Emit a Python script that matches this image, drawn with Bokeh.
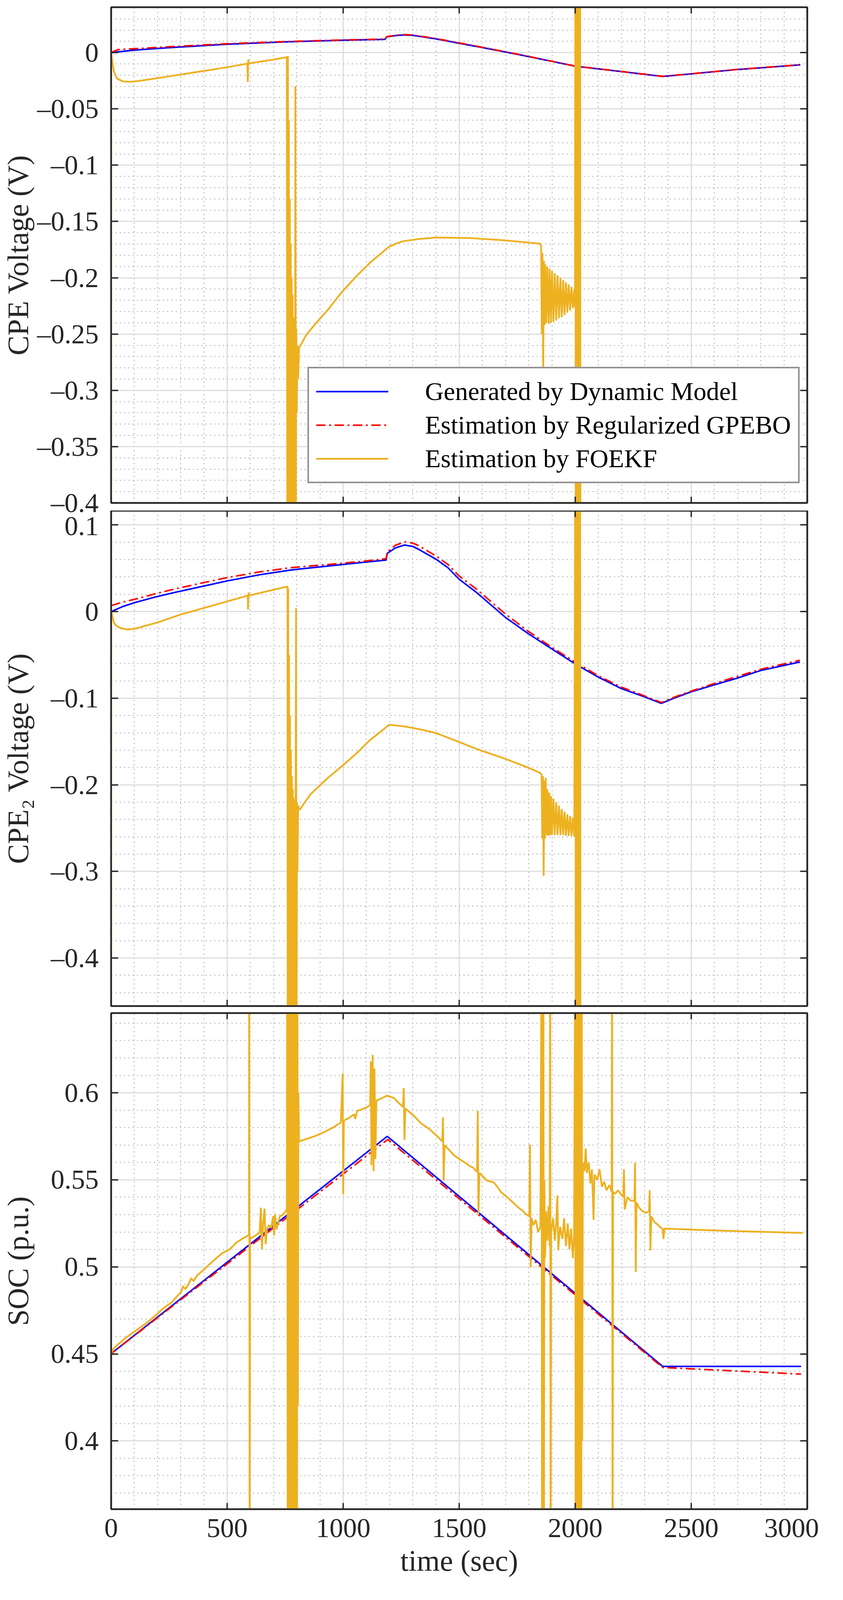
from bokeh.plotting import figure
from bokeh.models import (Range1d, LinearAxis, SingleIntervalTicker,
                          CustomJSTickFormatter, Legend, LegendItem)
from bokeh.layouts import column
from bokeh.embed import file_html
from bokeh.resources import INLINE

# ---------------- data (time [s], value) ----------------
# Panel 1: CPE voltage (V)
top_gen = [(0, 0.0), (100, 0.0022), (250, 0.0044), (500, 0.0074), (750, 0.0095), (1000, 0.0110),
           (1180, 0.0118), (1188, 0.0140), (1230, 0.0152), (1265, 0.0157), (1300, 0.0153),
           (1400, 0.0122), (1500, 0.0083), (1600, 0.0045), (1750, -0.0015), (1900, -0.0078),
           (2000, -0.0121), (2200, -0.0169), (2377, -0.0212), (2500, -0.0189), (2700, -0.0150),
           (2970, -0.0109)]
top_gpebo = [(0, 0.0), (30, 0.0027), (100, 0.0034), (250, 0.0052), (500, 0.0079), (750, 0.0098),
             (1000, 0.0112), (1180, 0.0120), (1188, 0.0142), (1230, 0.0155), (1265, 0.0160),
             (1300, 0.0156), (1400, 0.0125), (1500, 0.0086), (1600, 0.0047), (1750, -0.0013),
             (1900, -0.0077), (2000, -0.0120), (2200, -0.0168), (2377, -0.0211), (2500, -0.0188),
             (2700, -0.0149), (2970, -0.0108)]
top_foekf = [(0, -0.6), (0.5, 0.0), (5, -0.008), (12, -0.017), (25, -0.023), (50, -0.0255),
             (80, -0.026), (120, -0.0252), (300, -0.0195), (500, -0.0130), (587, -0.0098),
             (589, -0.026), (591, -0.0060), (593, -0.0096), (596, -0.0095), (700, -0.0062),
             (757, -0.0040), (760, -0.6), (762, -0.003), (764, -0.6), (766, -0.06), (768, -0.6),
             (770, -0.13), (772, -0.6), (774, -0.17), (776, -0.6), (778, -0.20), (780, -0.5),
             (782, -0.215), (784, -0.5), (786, -0.235), (788, -0.45), (790, -0.25), (792, -0.42),
             (794, -0.030), (796, -0.42), (798, -0.245), (800, -0.32), (803, -0.26), (806, -0.29),
             (810, -0.262), (818, -0.2594), (840, -0.251), (877, -0.2417), (940, -0.227),
             (995, -0.2125), (1060, -0.198), (1119, -0.1860), (1160, -0.179), (1196, -0.1727),
             (1230, -0.1695), (1261, -0.1674), (1330, -0.1655), (1400, -0.1642), (1550, -0.1648),
             (1700, -0.1668), (1848, -0.1697), (1853, -0.172), (1856, -0.250), (1859, -0.178),
             (1862, -0.285), (1865, -0.185), (1868, -0.242), (1871, -0.188), (1875, -0.240),
             (1880, -0.190), (1885, -0.241), (1890, -0.192), (1895, -0.240), (1900, -0.194),
             (1906, -0.239), (1912, -0.196), (1918, -0.238), (1924, -0.198), (1930, -0.236),
             (1936, -0.200), (1942, -0.235), (1948, -0.202), (1954, -0.233), (1960, -0.204),
             (1966, -0.231), (1972, -0.206), (1978, -0.229), (1984, -0.208), (1990, -0.227),
             (1996, -0.210), (1999, -0.226), (2001, 0.2), (2003, -0.7), (2005, 0.2), (2007, -0.7),
             (2009, 0.2), (2011, -0.7), (2013, 0.2), (2015, -0.7), (2017, 0.2), (2019, -0.7),
             (2021, 0.2), (2023, -0.7)]

# Panel 2: CPE2 voltage (V)
mid_gen = [(0, 0.0), (50, 0.0058), (105, 0.0106), (190, 0.0168), (272, 0.0220), (400, 0.0295),
           (500, 0.0354), (640, 0.0425), (775, 0.0480), (900, 0.0516), (1003, 0.0545),
           (1100, 0.0572), (1185, 0.0595), (1190, 0.0672), (1225, 0.0735), (1264, 0.0768),
           (1300, 0.0752), (1326, 0.0718), (1401, 0.0603), (1451, 0.0507), (1500, 0.0373),
           (1575, 0.0220), (1699, -0.0066), (1799, -0.0257), (1898, -0.0429), (1998, -0.0601),
           (2097, -0.0753), (2197, -0.0887), (2300, -0.0985), (2371, -0.1060), (2430, -0.0995),
           (2501, -0.0925), (2600, -0.0845), (2694, -0.0772), (2800, -0.0680), (2968, -0.0582)]
mid_gpebo = [(0, 0.0069), (50, 0.0110), (105, 0.0144), (190, 0.0205), (272, 0.0259), (400, 0.0335),
             (500, 0.0392), (640, 0.0458), (775, 0.0507), (900, 0.0535), (1003, 0.0560),
             (1100, 0.0585), (1185, 0.0610), (1190, 0.0690), (1225, 0.0765), (1265, 0.0806),
             (1300, 0.0790), (1326, 0.0760), (1401, 0.0640), (1451, 0.0545), (1500, 0.0410),
             (1575, 0.0258), (1699, -0.0028), (1799, -0.0230), (1898, -0.0410), (1998, -0.0580),
             (2097, -0.0738), (2197, -0.0870), (2300, -0.0975), (2371, -0.1050), (2430, -0.0985),
             (2501, -0.0917), (2600, -0.0830), (2694, -0.0753), (2800, -0.0665), (2968, -0.0562)]
mid_foekf = [(0, -0.6), (0.5, 0.003), (5, -0.005), (12, -0.013), (21, -0.016), (40, -0.019),
             (71, -0.0207), (100, -0.0200), (200, -0.0125), (300, -0.0034), (450, 0.0079),
             (589, 0.0185), (590, 0.0023), (592, 0.0220), (594, 0.0185), (700, 0.0252),
             (760, 0.0290), (761, -0.6), (763, 0.027), (765, -0.6), (767, -0.05), (769, -0.6),
             (771, -0.12), (773, -0.6), (775, -0.16), (777, -0.6), (779, -0.19), (781, -0.55),
             (783, -0.205), (785, -0.52), (787, -0.215), (789, -0.5), (791, -0.22), (793, -0.55),
             (795, -0.225), (797, 0.004), (799, -0.6), (801, -0.22), (803, -0.30), (806, -0.224),
             (812, -0.229), (830, -0.222), (859, -0.211), (930, -0.193), (1003, -0.1766),
             (1060, -0.163), (1110, -0.1497), (1160, -0.139), (1194, -0.1315), (1202, -0.1307),
             (1264, -0.1326), (1326, -0.1357), (1401, -0.1403), (1500, -0.1506), (1575, -0.1586),
             (1699, -0.1700), (1799, -0.1804), (1848, -0.1862), (1855, -0.1880), (1858, -0.262),
             (1861, -0.190), (1864, -0.305), (1867, -0.195), (1870, -0.262), (1873, -0.192),
             (1876, -0.258), (1880, -0.205), (1884, -0.259), (1888, -0.209), (1892, -0.258),
             (1896, -0.213), (1900, -0.258), (1906, -0.216), (1912, -0.258), (1918, -0.220),
             (1924, -0.258), (1930, -0.224), (1936, -0.258), (1942, -0.228), (1948, -0.258),
             (1954, -0.231), (1960, -0.259), (1966, -0.234), (1972, -0.259), (1978, -0.236),
             (1984, -0.259), (1990, -0.238), (1996, -0.260), (2001, 0.3), (2003, -0.7),
             (2005, 0.3), (2007, -0.7), (2009, 0.3), (2011, -0.7), (2013, 0.3), (2015, -0.7),
             (2017, 0.3), (2019, -0.7), (2021, 0.3), (2023, -0.7)]

# Panel 3: SOC (p.u.)
bot_gen = [(0, 0.4502), (1190, 0.5750), (2377, 0.4428), (2973, 0.4428)]
bot_gpebo = [(0, 0.30), (0.5, 0.4502), (1192, 0.5732), (2377, 0.4422), (2600, 0.4408), (2973, 0.4384)]
bot_foekf = [(0, 0.4502), (10, 0.4530), (30, 0.4555), (60, 0.4590), (100, 0.4628), (150, 0.4675),
             (190, 0.4720), (230, 0.4768), (260, 0.4795), (290, 0.4840), (300, 0.4852),
             (310, 0.4890), (320, 0.4872), (335, 0.4905), (345, 0.4935), (355, 0.4918),
             (370, 0.4950), (400, 0.4985), (440, 0.5035), (480, 0.5080), (510, 0.5100),
             (540, 0.5140), (570, 0.5165), (590, 0.5180), (594, 0.5190), (595, 0.70), (597, 0.30),
             (599, 0.5170), (605, 0.5165), (620, 0.5180), (640, 0.5195), (645, 0.5340),
             (650, 0.5100), (655, 0.5250), (661, 0.5335), (666, 0.5130), (672, 0.5220),
             (680, 0.5240), (690, 0.5225), (698, 0.5290), (702, 0.5180), (706, 0.5305),
             (712, 0.5215), (720, 0.5255), (727, 0.5290), (740, 0.5300), (752, 0.5320),
             (757, 0.5330), (759, 0.70), (761, 0.30), (763, 0.70), (765, 0.30), (767, 0.70),
             (769, 0.30), (771, 0.70), (773, 0.30), (775, 0.70), (777, 0.30), (779, 0.70),
             (781, 0.30), (783, 0.70), (785, 0.30), (787, 0.70), (789, 0.30), (791, 0.70),
             (793, 0.30), (795, 0.70), (797, 0.30), (799, 0.70), (801, 0.30), (803, 0.66),
             (805, 0.42), (807, 0.60), (810, 0.5720), (830, 0.5730), (876, 0.5750), (920, 0.5775),
             (961, 0.5804), (990, 0.5830), (998, 0.6110), (1000, 0.5417), (1003, 0.5840),
             (1030, 0.5860), (1047, 0.5877), (1052, 0.5850), (1060, 0.5895), (1099, 0.5915),
             (1116, 0.5930), (1119, 0.6180), (1122, 0.5584), (1127, 0.6218), (1131, 0.5550),
             (1135, 0.6140), (1139, 0.5620), (1143, 0.5955), (1160, 0.5965), (1189, 0.5984),
             (1219, 0.5970), (1240, 0.5940), (1258, 0.5920), (1261, 0.6028), (1264, 0.5730),
             (1268, 0.5910), (1305, 0.5868), (1335, 0.5825), (1374, 0.5789), (1410, 0.5745),
             (1427, 0.5720), (1430, 0.5858), (1433, 0.5496), (1437, 0.5700), (1477, 0.5642),
             (1500, 0.5620), (1530, 0.5595), (1545, 0.5580), (1560, 0.5570), (1577, 0.5545),
             (1580, 0.5896), (1583, 0.5300), (1587, 0.5540), (1620, 0.5495), (1648, 0.5486),
             (1665, 0.5460), (1680, 0.5430), (1707, 0.5400), (1740, 0.5360), (1760, 0.5335),
             (1774, 0.5322), (1790, 0.5300), (1802, 0.5290), (1805, 0.5703), (1808, 0.4998),
             (1812, 0.5280), (1820, 0.5240), (1830, 0.5270), (1840, 0.5200), (1850, 0.5230),
             (1855, 0.70), (1857, 0.30), (1859, 0.70), (1861, 0.4722), (1863, 0.70), (1865, 0.30),
             (1867, 0.5500), (1870, 0.5050), (1875, 0.5320), (1880, 0.5150), (1885, 0.5350),
             (1890, 0.5120), (1892, 0.70), (1894, 0.30), (1896, 0.5200), (1905, 0.5280),
             (1912, 0.5150), (1918, 0.5250), (1923, 0.5410), (1927, 0.5095), (1935, 0.5230),
             (1945, 0.5160), (1952, 0.5280), (1960, 0.5120), (1968, 0.5250), (1975, 0.5100),
             (1982, 0.5220), (1990, 0.5050), (1995, 0.5180), (2000, 0.70), (2002, 0.30),
             (2004, 0.70), (2006, 0.30), (2008, 0.70), (2010, 0.30), (2012, 0.70), (2014, 0.30),
             (2016, 0.70), (2018, 0.30), (2020, 0.70), (2022, 0.30), (2024, 0.70), (2026, 0.30),
             (2028, 0.70), (2030, 0.40), (2033, 0.5600), (2040, 0.5550), (2045, 0.5680),
             (2050, 0.5540), (2058, 0.5600), (2065, 0.5480), (2072, 0.5560), (2079, 0.5270),
             (2083, 0.5530), (2095, 0.5500), (2105, 0.5560), (2115, 0.5460), (2125, 0.5490),
             (2135, 0.5440), (2147, 0.5470), (2157, 0.5430), (2159, 0.70), (2161, 0.30),
             (2163, 0.5430), (2172, 0.5420), (2185, 0.5440), (2197, 0.5417), (2207, 0.5400),
             (2210, 0.5560), (2213, 0.5330), (2225, 0.5400), (2240, 0.5380), (2255, 0.5379),
             (2258, 0.5598), (2261, 0.4970), (2264, 0.5370), (2275, 0.5340), (2290, 0.5320),
             (2305, 0.5310), (2318, 0.5320), (2321, 0.5440), (2324, 0.5095), (2328, 0.5290),
             (2340, 0.5260), (2352, 0.5246), (2365, 0.5230), (2377, 0.5218), (2380, 0.5160),
             (2385, 0.5220), (2500, 0.5214), (2700, 0.5205), (2980, 0.5195)]

series_labels = ["Generated by Dynamic Model", "Estimation by Regularized GPEBO", "Estimation by FOEKF"]
x_label = "time (sec)"
y_labels = ["CPE Voltage (V)", "CPE\u2082 Voltage (V)", "SOC (p.u.)"]

# ---------------- styling ----------------
FONT = "Liberation Serif"
AXC = "#262626"
BLUE = "#0000FF"
RED = "#FF0000"
ORANGE = "#EDB120"

MINUS_CODE = "var s = Number(tick.toFixed(4)).toString(); return s.replace('-', '\\u2013');"


def split(pairs):
    return [a for a, _ in pairs], [b for _, b in pairs]


def style_axis(ax, ticker, hide, tick_len):
    ax.ticker = ticker
    ax.axis_line_color = AXC
    ax.axis_line_width = 4
    ax.major_tick_in = tick_len
    ax.major_tick_out = 0
    ax.major_tick_line_color = AXC
    ax.major_tick_line_width = 3.5
    ax.minor_tick_in = 0
    ax.minor_tick_out = 0
    ax.minor_tick_line_color = None
    if hide:
        ax.formatter = CustomJSTickFormatter(code="return '';")
        ax.major_label_text_font_size = "0px"
        ax.major_label_standoff = 0
    else:
        ax.major_label_text_font = FONT
        ax.major_label_text_font_size = "70px"
        ax.major_label_text_color = AXC


def make_panel(y0, y1, yint, ylabel, label_standoff, btop, bbottom, fh, show_x, transparent=False):
    p = figure(frame_width=1782, frame_height=fh,
               x_range=Range1d(0, 3000), y_range=Range1d(y0, y1),
               output_backend="svg", toolbar_location=None,
               min_border_left=278, min_border_right=30,
               min_border_top=btop, min_border_bottom=bbottom,
               outline_line_color=AXC, outline_line_width=4,
               background_fill_color="white", border_fill_color="white")
    if transparent:
        p.border_fill_alpha = 0.0
    xt = SingleIntervalTicker(interval=500, num_minor_ticks=5)
    yt = SingleIntervalTicker(interval=yint, num_minor_ticks=5)
    style_axis(p.xaxis[0], xt, not show_x, 16)
    style_axis(p.yaxis[0], yt, False, 18)
    ya = p.yaxis[0]
    ya.formatter = CustomJSTickFormatter(code=MINUS_CODE)
    ya.major_label_standoff = 32
    ya.axis_label = ylabel
    ya.axis_label_text_font = FONT
    ya.axis_label_text_font_size = "76px"
    ya.axis_label_text_font_style = "normal"
    ya.axis_label_text_color = AXC
    ya.axis_label_standoff = label_standoff
    if show_x:
        xa = p.xaxis[0]
        xa.major_label_standoff = 25
        xa.axis_label = x_label
        xa.axis_label_text_font = FONT
        xa.axis_label_text_font_size = "76px"
        xa.axis_label_text_font_style = "normal"
        xa.axis_label_text_color = AXC
        xa.axis_label_standoff = 15
    top = LinearAxis()
    style_axis(top, xt, True, 16)
    p.add_layout(top, "above")
    right = LinearAxis()
    style_axis(right, yt, True, 18)
    p.add_layout(right, "right")
    for g, t in ((p.xgrid[0], xt), (p.ygrid[0], yt)):
        g.ticker = t
        g.grid_line_color = "#dedede"
        g.grid_line_width = 3
        g.minor_grid_line_color = "#c2c2c2"
        g.minor_grid_line_width = 3
        g.minor_grid_line_dash = "3 8"
    return p


def add_lines(p, gen, gpebo, foekf):
    t, v = split(gen)
    r1 = p.line(t, v, line_color=BLUE, line_width=4)
    t, v = split(gpebo)
    r2 = p.line(t, v, line_color=RED, line_width=4, line_dash="24 9 5 9")
    t, v = split(foekf)
    r3 = p.line(t, v, line_color=ORANGE, line_width=4.5)
    return r1, r2, r3


# layout sized so the whole page fits the visible browser area
p1 = make_panel(-0.4, 0.0403, 0.05, y_labels[0], 4, 18, 60, 1269, False)
r1, r2, r3 = add_lines(p1, top_gen, top_gpebo, top_foekf)
legend = Legend(items=[LegendItem(label=series_labels[0], renderers=[r1]),
                       LegendItem(label=series_labels[1], renderers=[r2]),
                       LegendItem(label=series_labels[2], renderers=[r3])],
                location=(503, 50),
                label_text_font=FONT, label_text_font_size="66px", label_text_color="black",
                glyph_width=185, glyph_height=40, label_height=82, label_standoff=94,
                padding=18, spacing=4, margin=0,
                border_line_color=AXC, border_line_width=4,
                background_fill_color="white", background_fill_alpha=1.0)
p1.add_layout(legend)

p2 = make_panel(-0.4554, 0.1164, 0.1, y_labels[1], 39, 0, 9, 1268, False, transparent=True)
p2.margin = (-40, 0, 0, 0)
add_lines(p2, mid_gen, mid_gpebo, mid_foekf)

p3 = make_panel(0.3608, 0.6458, 0.05, y_labels[2], 39, 9, 0, 1270, True)
add_lines(p3, bot_gen, bot_gpebo, bot_foekf)

layout = column(p1, p2, p3, spacing=0)
open("out.html", "w").write(file_html(layout, INLINE))
